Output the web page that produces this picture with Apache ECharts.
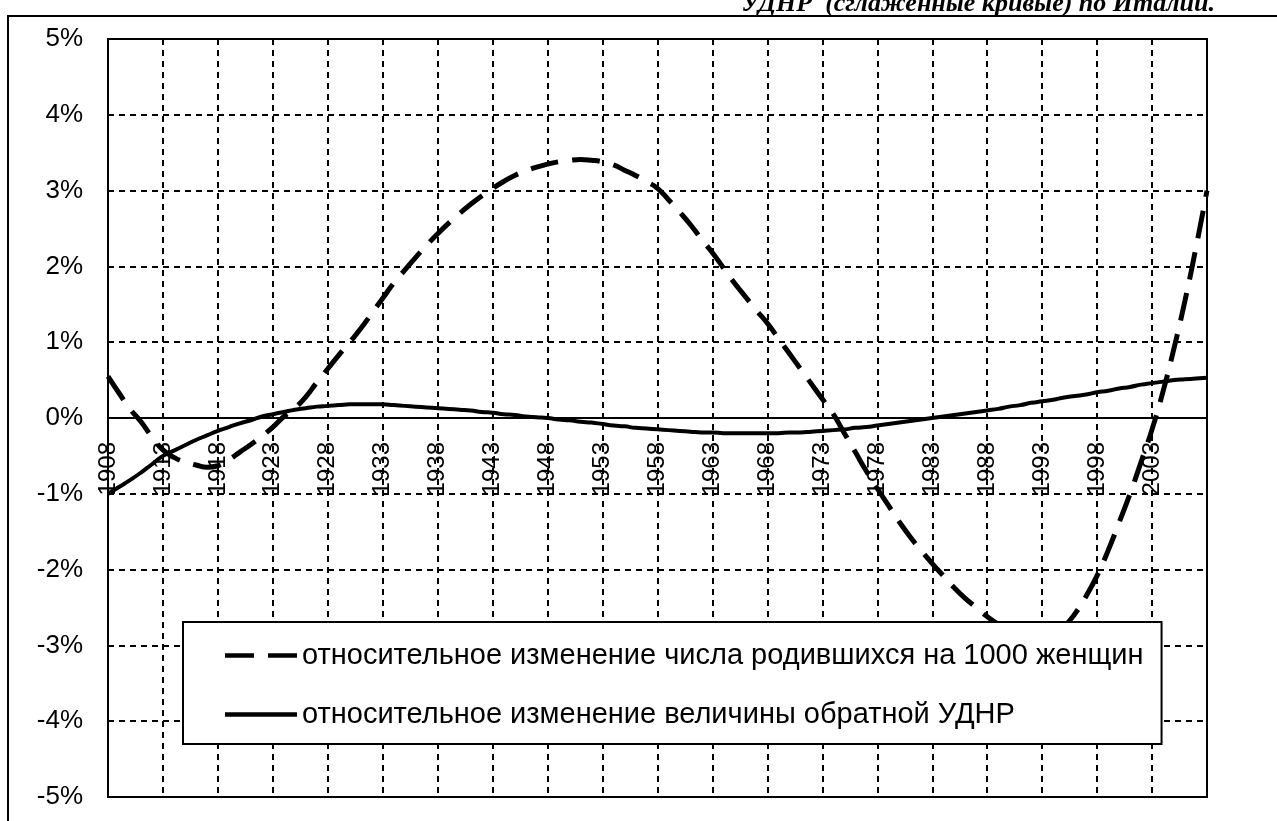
<!DOCTYPE html>
<html>
<head>
<meta charset="utf-8">
<title>Италия</title>
<script src="https://cdn.jsdelivr.net/npm/echarts@6/dist/echarts.min.js"></script>
<style>
html, body { margin: 0; padding: 0; background: #fff; }
#chart { width: 1277px; height: 821px; }
</style>
</head>
<body>
<div id="chart"></div>
<script>
var years = [
  '1908','1909','1910','1911','1912','1913','1914','1915','1916','1917',
  '1918','1919','1920','1921','1922','1923','1924','1925','1926','1927',
  '1928','1929','1930','1931','1932','1933','1934','1935','1936','1937',
  '1938','1939','1940','1941','1942','1943','1944','1945','1946','1947',
  '1948','1949','1950','1951','1952','1953','1954','1955','1956','1957',
  '1958','1959','1960','1961','1962','1963','1964','1965','1966','1967',
  '1968','1969','1970','1971','1972','1973','1974','1975','1976','1977',
  '1978','1979','1980','1981','1982','1983','1984','1985','1986','1987',
  '1988','1989','1990','1991','1992','1993','1994','1995','1996','1997',
  '1998','1999','2000','2001','2002','2003','2004','2005','2006','2007',
  '2008'
];

// относительное изменение числа родившихся на 1000 женщин, %
var birthsChange = [
  0.55, 0.33, 0.12, -0.05, -0.25, -0.42, -0.52, -0.58, -0.62, -0.65,
  -0.63, -0.55, -0.45, -0.35, -0.24, -0.12, 0.02, 0.13, 0.28, 0.47,
  0.65, 0.83, 1.00, 1.18, 1.38, 1.58, 1.78, 1.95, 2.12, 2.28,
  2.43, 2.57, 2.70, 2.82, 2.93, 3.03, 3.12, 3.20, 3.26, 3.31,
  3.35, 3.38, 3.40, 3.41, 3.40, 3.38, 3.34, 3.27, 3.20, 3.12,
  3.03, 2.88, 2.72, 2.55, 2.36, 2.18, 1.98, 1.78, 1.60, 1.42,
  1.25, 1.05, 0.85, 0.65, 0.45, 0.25, 0.05, -0.20, -0.45, -0.70,
  -0.93, -1.15, -1.37, -1.57, -1.75, -1.92, -2.08, -2.24, -2.38, -2.50,
  -2.62, -2.72, -2.80, -2.86, -2.90, -2.90, -2.85, -2.75, -2.58, -2.35,
  -2.08, -1.75, -1.38, -1.00, -0.58, -0.15, 0.35, 0.92, 1.55, 2.25,
  3.00
];

// относительное изменение величины обратной УДНР, %
var invTfrChange = [
  -1.00, -0.91, -0.82, -0.72, -0.61, -0.50, -0.43, -0.36, -0.29, -0.23,
  -0.17, -0.12, -0.07, -0.03, 0.02, 0.05, 0.08, 0.11, 0.13, 0.15,
  0.16, 0.17, 0.18, 0.18, 0.18, 0.18, 0.17, 0.16, 0.15, 0.14,
  0.13, 0.12, 0.11, 0.10, 0.08, 0.07, 0.05, 0.04, 0.02, 0.01,
  0.00, -0.02, -0.03, -0.05, -0.06, -0.08, -0.10, -0.11, -0.13, -0.14,
  -0.15, -0.16, -0.17, -0.18, -0.19, -0.19, -0.20, -0.20, -0.20, -0.20,
  -0.20, -0.20, -0.19, -0.19, -0.18, -0.17, -0.16, -0.15, -0.13, -0.12,
  -0.10, -0.08, -0.06, -0.04, -0.02, 0.00, 0.02, 0.04, 0.06, 0.08,
  0.10, 0.12, 0.15, 0.17, 0.20, 0.22, 0.24, 0.27, 0.29, 0.31,
  0.34, 0.36, 0.39, 0.41, 0.44, 0.46, 0.48, 0.50, 0.51, 0.52,
  0.53
];

var seriesNames = [
  'относительное изменение числа родившихся на 1000 женщин',
  'относительное изменение величины обратной УДНР'
];
var titleText = 'УДНР  (сглаженные кривые) по Италии.';

var FONT = '"Liberation Sans", Arial, sans-serif';

// plot area, px
var PLOT_TOP = 39, PLOT_BOTTOM = 797;
var Y_MIN = -5, Y_MAX = 5;
// the category axis sits on the 0% line
var zeroOffset = (PLOT_BOTTOM - PLOT_TOP) * (0 - Y_MIN) / (Y_MAX - Y_MIN);

function everyFifth (idx) { return idx % 5 === 0; }
function labelFifth (idx) { return idx % 5 === 0 && idx < years.length - 1; }

var myChart = echarts.init(document.getElementById('chart'));
var option = {
  backgroundColor: '#fff',
  animation: false,
  grid: {
    left: 108, right: 70, top: PLOT_TOP, bottom: 821 - PLOT_BOTTOM,
    outerBoundsMode: 'none',
    containLabel: false,
    show: true,
    borderColor: '#000',
    borderWidth: 2,
    backgroundColor: 'transparent'
  },
  graphic: [
    {
      type: 'rect',
      silent: true,
      shape: { x: 8, y: 16, width: 1400, height: 900 },
      style: { fill: 'transparent', stroke: '#000', lineWidth: 2 }
    },
    {
      type: 'text',
      silent: true,
      x: 1215,
      y: 17,
      style: {
        text: titleText,
        font: 'italic bold 26px "Liberation Serif", "Times New Roman", serif',
        fill: '#000',
        textAlign: 'right',
        textVerticalAlign: 'bottom',
        align: 'right',
        verticalAlign: 'bottom'
      }
    }
  ],
  legend: {
    orient: 'vertical',
    left: 183,
    top: 622,
    data: [
      { name: seriesNames[0], icon: 'path://M0,0H29V4.5H0ZM43,0H72V4.5H43Z' },
      { name: seriesNames[1], icon: 'path://M0,0H76V4.5H0Z' }
    ],
    backgroundColor: '#fff',
    borderColor: '#000',
    borderWidth: 2,
    borderRadius: 0,
    padding: [19, 18, 15, 42],
    itemGap: 30,
    itemWidth: 72,
    itemHeight: 26,
    selectedMode: false,
    textStyle: { fontSize: 29, color: '#000', fontFamily: FONT }
  },
  xAxis: {
    type: 'category',
    data: years,
    boundaryGap: false,
    offset: -zeroOffset,
    axisLine: { onZero: false, lineStyle: { color: '#000', width: 2 } },
    axisTick: { show: false },
    axisLabel: {
      interval: labelFifth,
      rotate: 90,
      margin: 24,
      fontSize: 24,
      color: '#000',
      fontFamily: FONT
    },
    splitLine: {
      show: true,
      interval: everyFifth,
      lineStyle: { color: '#000', width: 2, type: [6, 5] }
    }
  },
  yAxis: {
    type: 'value',
    min: Y_MIN,
    max: Y_MAX,
    interval: 1,
    axisLine: { show: true, lineStyle: { color: '#000', width: 2 } },
    axisTick: { show: false },
    axisLabel: {
      formatter: '{value}%',
      margin: 25,
      fontSize: 26,
      color: '#000',
      fontFamily: FONT
    },
    splitLine: {
      show: true,
      lineStyle: { color: '#000', width: 2, type: [6, 5] }
    }
  },
  series: [
    {
      name: seriesNames[0],
      type: 'line',
      data: birthsChange,
      symbol: 'none',
      smooth: true,
      lineStyle: { color: '#000', width: 5, type: [28, 14] },
      itemStyle: { color: '#000' }
    },
    {
      name: seriesNames[1],
      type: 'line',
      data: invTfrChange,
      symbol: 'none',
      smooth: true,
      lineStyle: { color: '#000', width: 4, type: 'solid' },
      itemStyle: { color: '#000' }
    }
  ]
};
myChart.setOption(option);
</script>
</body>
</html>
